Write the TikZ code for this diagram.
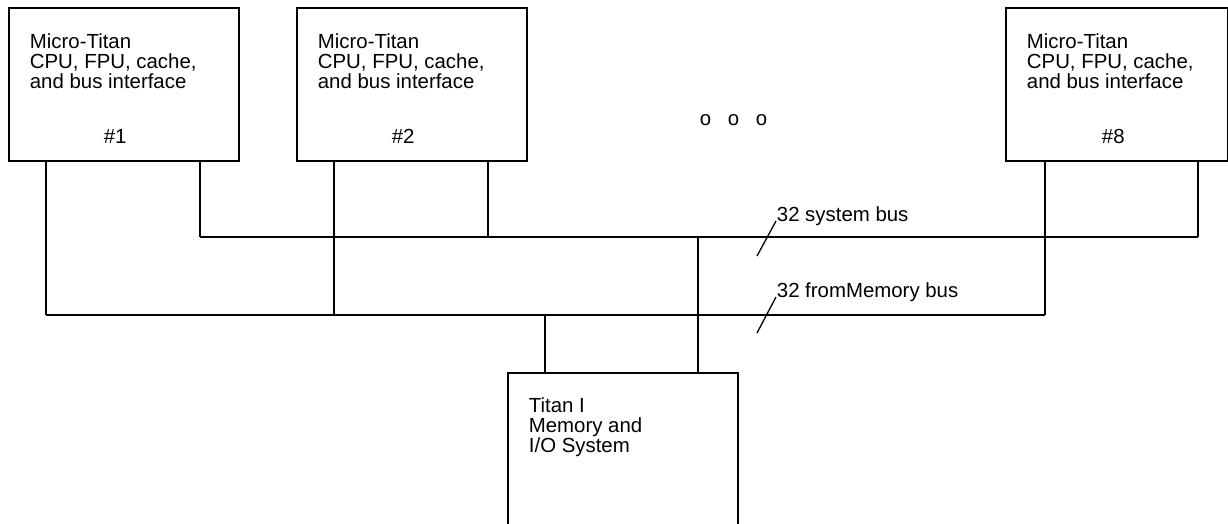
\documentclass[tikz,border=0pt]{standalone}
\usepackage{fontspec}
\setmainfont{Liberation Sans}
\begin{document}
\begin{tikzpicture}[x=1pt,y=-1pt,line width=1.8pt,
  cpubox/.style={draw,rectangle,anchor=north west,inner sep=0pt,minimum width=230pt,minimum height=153pt},
  txt/.style={anchor=base west,inner sep=0pt,align=left,font=\fontsize{20.4}{20}\selectfont},
  bus/.style={line width=1.8pt}]
\useasboundingbox (0,0) rectangle (1228,523);
\clip (0,0) rectangle (1228,523);
% boxes
\node[cpubox] (b1) at (8,7) {};
\node[cpubox] (b2) at (296,7) {};
\node[cpubox,minimum width=222pt] (b8) at (1005,7) {};
\node[cpubox,minimum height=200pt] (mem) at (507,372) {};
% box texts (anchor = baseline of last line)
\node[txt] (t1) at (29,88) {Micro-Titan\\CPU, FPU, cache,\\and bus interface};
\node[txt] (n1) at (103,143) {\#1};
\node[txt] (t2) at (317,88) {Micro-Titan\\CPU, FPU, cache,\\and bus interface};
\node[txt] (n2) at (391,143) {\#2};
\node[txt] (t8) at (1026,88) {Micro-Titan\\CPU, FPU, cache,\\and bus interface};
\node[txt] (n8) at (1101,143) {\#8};
\node[txt] (tm) at (528,452) {Titan I\\Memory and\\I/O System};
% ellipsis
\node[txt] (o1) at (699,125) {o};
\node[txt] (o2) at (727,125) {o};
\node[txt] (o3) at (755,125) {o};
% bus taps
\coordinate (s1) at (200,237);
\coordinate (s2) at (488,237);
\coordinate (sm) at (698,237);
\coordinate (s8) at (1198,237);
\coordinate (m1) at (46,315);
\coordinate (m2) at (334,315);
\coordinate (mm) at (545,315);
\coordinate (m8) at (1045,315);
% buses
\draw[bus] (s1) -- (s8);
\draw[bus] (m1) -- (m8);
% drops
\draw (b1.south -| m1) -- (m1);
\draw (b1.south -| s1) -- (s1);
\draw (b2.south -| m2) -- (m2);
\draw (b2.south -| s2) -- (s2);
\draw (b8.south -| m8) -- (m8);
\draw (b8.south -| s8) -- (s8);
\draw (mm) -- (mem.north -| mm);
\draw (sm) -- (mem.north -| sm);
% bus width labels
\node[txt] (ls) at (776,221) {32 system bus};
\node[txt] (lm) at (776,297) {32 fromMemory bus};
\coordinate (ss) at (757,256);
\coordinate (ms) at (757,333);
\draw[line width=1.3pt] (ss) -- (ls.base west);
\draw[line width=1.3pt] (ms) -- (lm.base west);
\end{tikzpicture}
\end{document}
